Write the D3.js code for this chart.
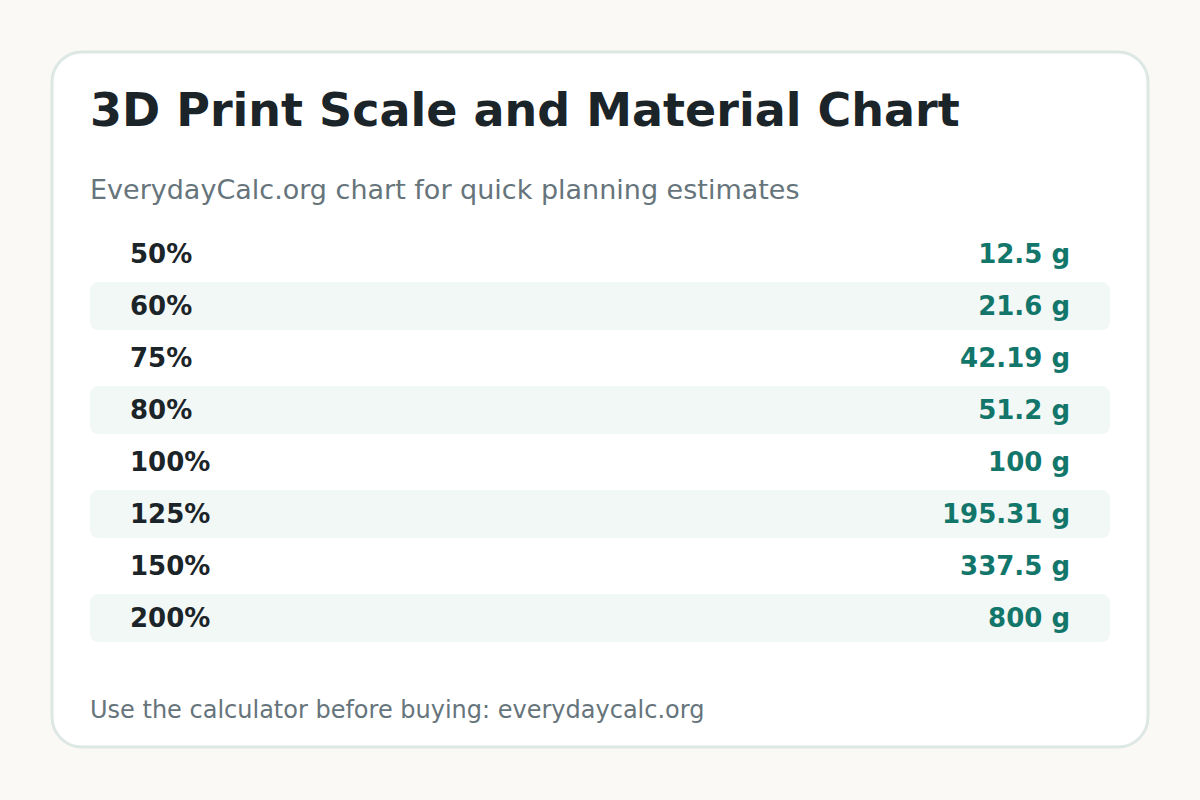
<!DOCTYPE html>
<html>
<head>
<meta charset="utf-8">
<script src="https://cdn.jsdelivr.net/npm/d3@7"></script>
<style>
  body { margin: 0; background: #faf9f6; }
  text { font-family: "DejaVu Sans", sans-serif; }
</style>
</head>
<body>
<div id="chart"></div>
<script>
var scales = ["50%", "60%", "75%", "80%", "100%", "125%", "150%", "200%"];
var grams = [12.5, 21.6, 42.19, 51.2, 100, 195.31, 337.5, 800];
var title = "3D Print Scale and Material Chart";
var subtitle = "EverydayCalc.org chart for quick planning estimates";
var footer = "Use the calculator before buying: everydaycalc.org";

var width = 1200, height = 800;

var svg = d3.select("#chart").append("svg")
    .attr("width", width)
    .attr("height", height);

svg.append("rect")
    .attr("x", 52).attr("y", 52)
    .attr("width", 1096).attr("height", 695)
    .attr("rx", 30)
    .style("fill", "#ffffff")
    .style("stroke", "#dde7e4")
    .style("stroke-width", 3);

svg.append("text")
    .attr("x", 90).attr("y", 126)
    .style("font-size", "46px")
    .style("font-weight", "bold")
    .style("fill", "#1b2428")
    .text(title);

svg.append("text")
    .attr("x", 90).attr("y", 199)
    .style("font-size", "27px")
    .style("fill", "#66747b")
    .text(subtitle);

var y = d3.scaleBand()
    .domain(scales)
    .range([228, 644])
    .paddingInner(0.08)
    .paddingOuter(0.04);

var rows = svg.selectAll(".row")
    .data(scales)
  .enter().append("g")
    .attr("class", "row")
    .attr("transform", function(d) { return "translate(0," + y(d) + ")"; });

rows.filter(function(d, i) { return i % 2 == 1; })
  .append("rect")
    .attr("x", 90)
    .attr("width", 1020)
    .attr("height", y.bandwidth())
    .attr("rx", 8)
    .style("fill", "#f2f8f6");

rows.append("text")
    .attr("x", 130)
    .attr("y", y.bandwidth() / 2)
    .attr("dy", "0.35em")
    .style("font-size", "26px")
    .style("font-weight", "bold")
    .style("fill", "#1b2428")
    .text(function(d) { return d; });

rows.append("text")
    .attr("x", 1070)
    .attr("y", y.bandwidth() / 2)
    .attr("dy", "0.35em")
    .style("text-anchor", "end")
    .style("font-size", "26px")
    .style("font-weight", "bold")
    .style("fill", "#12766b")
    .text(function(d, i) { return grams[i] + " g"; });

svg.append("text")
    .attr("x", 90).attr("y", 718)
    .style("font-size", "24px")
    .style("fill", "#66747b")
    .text(footer);
</script>
</body>
</html>
